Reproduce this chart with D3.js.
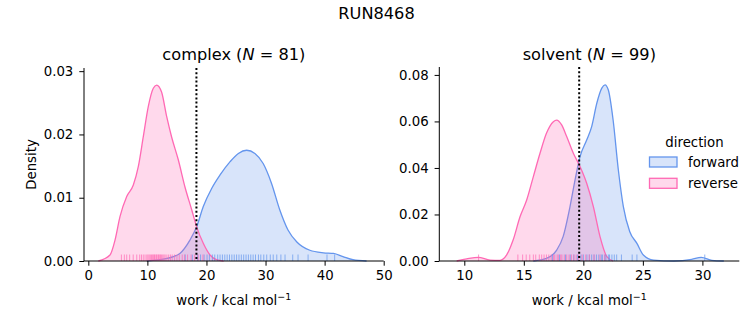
<!DOCTYPE html>
<html><head><meta charset="utf-8">
<script src="https://cdn.jsdelivr.net/npm/d3@7"></script>
<style>body{margin:0;background:#fff}svg{display:block}text{font-family:"DejaVu Sans",sans-serif;fill:#000}</style>
</head><body><svg id="c" width="753" height="325"></svg>
<script>
// ---- data ----
const figTitle = "RUN8468";
const panels = ["complex", "solvent"];
const panelN = [81, 99];
const directions = ["forward", "reverse"];
const colors = {forward: "#6495ED", reverse: "#FF69B4"};
const xTicksComplex = [0, 10, 20, 30, 40, 50];
const yTicksComplex = [0, 0.01, 0.02, 0.03];
const xTicksSolvent = [10, 15, 20, 25, 30];
const yTicksSolvent = [0, 0.02, 0.04, 0.06, 0.08];
const meanComplex = 18.3;
const meanSolvent = 19.65;

// density curves [work, density]
const kdeComplexForward = [[9.9,0],[13.3,0.0004],[15.5,0.0012],[17.2,0.0033],[18.34,0.0054],[19.46,0.0086],[20.9,0.0115],[22.3,0.0136],[24.0,0.0157],[25.4,0.0170],[26.8,0.0175],[28.2,0.0170],[29.6,0.0154],[31.0,0.0123],[32.4,0.0081],[33.8,0.0049],[35.3,0.0030],[37.5,0.0017],[39.8,0.0013],[41.5,0.0012],[43.1,0.0007],[44.8,0.0002],[47.1,0]];
const kdeComplexReverse = [[1.7,0],[3.67,0.00095],[4.52,0.0033],[5.36,0.0070],[6.5,0.0102],[7.62,0.0120],[8.46,0.0149],[9.3,0.0196],[10.15,0.0244],[11.0,0.0273],[11.57,0.0278],[12.4,0.0267],[13.27,0.0228],[14.1,0.0196],[15.23,0.0160],[16.36,0.0117],[17.5,0.0081],[18.34,0.0054],[19.46,0.0028],[20.6,0.00095],[21.7,0.0002],[22.9,0]];
const kdeSolventForward = [[15.8,0],[16.9,0.0011],[17.76,0.0047],[18.3,0.0105],[18.88,0.0234],[19.3,0.0348],[19.72,0.0449],[20.28,0.052],[20.7,0.0578],[21.13,0.0678],[21.55,0.0743],[21.82,0.0757],[22.1,0.0735],[22.5,0.0606],[22.94,0.0391],[23.36,0.0234],[23.9,0.0126],[24.5,0.0076],[25.04,0.0026],[25.9,0.0004],[27.6,0],[29.1,0.0007],[29.9,0.0016],[30.8,0.0003],[31.8,0]];
const kdeSolventReverse = [[9.36,0],[10.2,0.0009],[11.18,0.0016],[12.16,0.0004],[13.0,0.0003],[13.56,0.0026],[14.1,0.009],[14.68,0.019],[15.24,0.0262],[15.8,0.0363],[16.36,0.0463],[16.9,0.0549],[17.48,0.0599],[17.76,0.0606],[18.18,0.0585],[18.6,0.0535],[19.16,0.0463],[19.72,0.0406],[20.28,0.0334],[20.84,0.0234],[21.4,0.0105],[21.97,0.0019],[22.5,0]];

// rug values (individual work values)
const rugComplexForward = [16.4,17.6,18.5,19.0,19.6,20.1,20.5,21.0,21.4,21.9,22.3,22.7,23.1,23.5,23.9,24.3,24.7,25.1,25.5,25.9,26.3,26.7,27.1,27.5,27.9,28.3,28.8,29.2,29.7,30.2,30.8,31.3,31.9,32.6,33.3,34.6,35.5,37.2,40.4,41.7];
const rugComplexReverse = [5.6,6.1,6.5,7.0,7.6,8.2,8.7,9.0,9.3,9.6,9.9,10.1,10.3,10.5,10.7,10.9,11.0,11.2,11.3,11.5,11.6,11.8,11.9,12.1,12.2,12.4,12.6,12.8,13.0,13.3,13.6,13.9,14.2,14.6,15.0,15.4,15.9,16.3,16.8,17.4,18.0,18.6,19.4];
const rugSolventForward = [17.4,18.0,18.5,18.9,19.2,19.5,19.8,20.0,20.3,20.5,20.7,20.9,21.1,21.3,21.5,21.6,21.8,21.9,22.1,22.2,22.4,22.6,22.8,23.2,24.1,24.5,30.2];
const rugSolventReverse = [11.2,14.5,14.9,15.2,15.5,15.8,16.0,16.3,16.5,16.7,16.9,17.1,17.3,17.5,17.6,17.8,17.9,18.1,18.2,18.4,18.6,18.8,19.0,19.2,19.4,19.6,19.9,20.2,20.5,20.9,21.4,21.8];

// ---- drawing ----
const svg = d3.select("#c");
const FS = 13.3;

svg.append("text").attr("x", 376.5).attr("y", 19).attr("text-anchor", "middle")
  .style("font-size", "16.2px").text(figTitle);

const panelCfg = [
  {name: panels[0], n: panelN[0], left: 84, right: 383.7, top: 68, bottom: 261,
   xd: [-0.73, 50], yd: [0, 0.0305], xt: xTicksComplex, yt: yTicksComplex, mean: meanComplex,
   kde: {forward: kdeComplexForward, reverse: kdeComplexReverse},
   rug: {forward: rugComplexForward, reverse: rugComplexReverse}, ylabel: true},
  {name: panels[1], n: panelN[1], left: 439.3, right: 739.3, top: 67, bottom: 261,
   xd: [7.9, 33.1], yd: [0, 0.0834], xt: xTicksSolvent, yt: yTicksSolvent, mean: meanSolvent,
   kde: {forward: kdeSolventForward, reverse: kdeSolventReverse},
   rug: {forward: rugSolventForward, reverse: rugSolventReverse}, ylabel: false}
];

panelCfg.forEach(p => {
  const x = d3.scaleLinear().domain(p.xd).range([p.left, p.right]);
  const y = d3.scaleLinear().domain(p.yd).range([p.bottom, p.top]);
  const g = svg.append("g");

  directions.forEach(dir => {
    const area = d3.area().x(d => x(d[0])).y0(y(0)).y1(d => y(d[1])).curve(d3.curveMonotoneX);
    const line = d3.line().x(d => x(d[0])).y(d => y(d[1])).curve(d3.curveMonotoneX);
    g.append("path").attr("d", area(p.kde[dir])).attr("fill", colors[dir]).attr("fill-opacity", 0.25);
    g.append("path").attr("d", line(p.kde[dir])).attr("fill", "none").attr("stroke", colors[dir]).attr("stroke-width", 1.3);
  });
  directions.forEach(dir => {
    g.selectAll(null).data(p.rug[dir]).enter().append("line")
      .attr("x1", d => x(d)).attr("x2", d => x(d))
      .attr("y1", y(0)).attr("y2", y(0) - 6.5)
      .attr("stroke", colors[dir]).attr("stroke-opacity", 0.7).attr("stroke-width", 1);
  });

  g.append("line").attr("x1", x(p.mean)).attr("x2", x(p.mean)).attr("y1", p.top).attr("y2", p.bottom)
    .attr("stroke", "#000").attr("stroke-width", 2).attr("stroke-dasharray", "2,2.2");

  const xa = g.append("g").attr("transform", `translate(0,${p.bottom})`)
    .call(d3.axisBottom(x).tickValues(p.xt).tickSize(4.7).tickPadding(5).tickFormat(d3.format("d")));
  const ya = g.append("g").attr("transform", `translate(${p.left},0)`)
    .call(d3.axisLeft(y).tickValues(p.yt).tickSize(4.7).tickPadding(6).tickFormat(d3.format(".2f")));
  [xa, ya].forEach(a => {
    a.select(".domain").attr("stroke", "#000").attr("stroke-width", 1);
    a.selectAll(".tick line").attr("stroke", "#000").attr("stroke-width", 1);
    a.selectAll(".tick text").style("font-size", FS + "px").attr("font-family", "DejaVu Sans").attr("fill", "#000");
  });
  xa.select(".domain").attr("d", `M${p.left},0H${p.right}`);
  ya.select(".domain").attr("d", `M0,${p.bottom}V${p.top}`);

  const cx = (p.left + p.right) / 2;
  const t = svg.append("text").attr("x", cx).attr("y", 60).attr("text-anchor", "middle").style("font-size", "16.2px");
  t.append("tspan").text(p.name + " (");
  t.append("tspan").style("font-style", "italic").text("N");
  t.append("tspan").text(" = " + p.n + ")");

  const xl = svg.append("text").attr("x", cx).attr("y", 305).attr("text-anchor", "middle").style("font-size", FS + "px");
  xl.append("tspan").text("work / kcal mol");
  xl.append("tspan").attr("dy", -5.5).style("font-size", "9.5px").text("\u22121");

  if (p.ylabel) {
    svg.append("text").attr("transform", `translate(35.5,${(p.top + p.bottom) / 2}) rotate(-90)`)
      .attr("text-anchor", "middle").style("font-size", FS + "px").text("Density");
  }
});

// legend
const lg = svg.append("g");
lg.append("text").attr("x", 694.5).attr("y", 147).attr("text-anchor", "middle").style("font-size", FS + "px").text("direction");
directions.forEach((dir, i) => {
  const yy = 157 + i * 21.3;
  lg.append("rect").attr("x", 649.5).attr("y", yy).attr("width", 27.5).attr("height", 10)
    .attr("fill", colors[dir]).attr("fill-opacity", 0.25).attr("stroke", colors[dir]).attr("stroke-width", 1.3);
  lg.append("text").attr("x", 688).attr("y", yy + 10).style("font-size", FS + "px").text(dir);
});
</script></body></html>
